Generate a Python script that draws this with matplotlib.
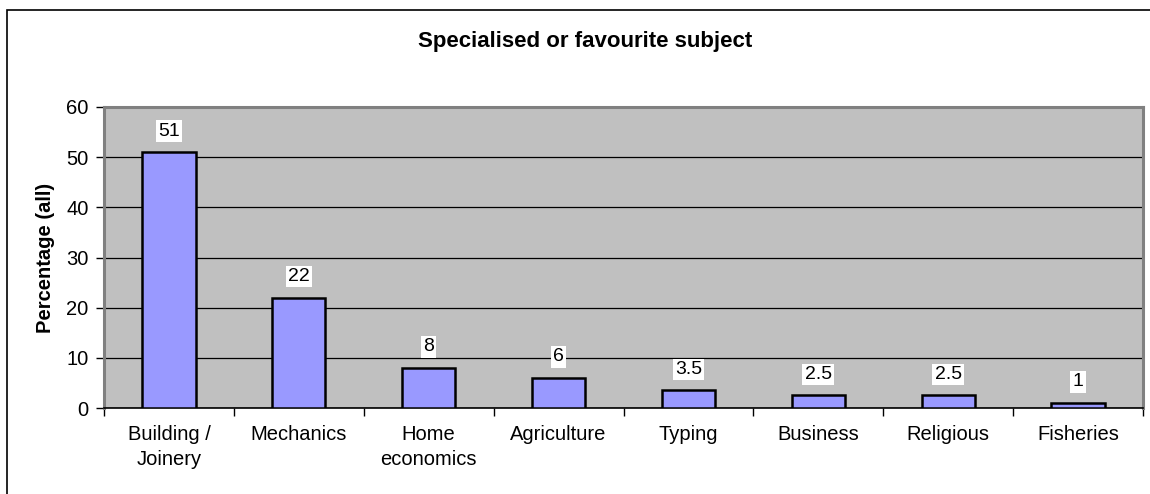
import matplotlib
matplotlib.use("Agg")
import matplotlib.pyplot as plt
from matplotlib.patches import Rectangle

plt.rcParams['font.family'] = ['Liberation Sans', 'DejaVu Sans']

subjects = ['Building /\nJoinery', 'Mechanics', 'Home\neconomics', 'Agriculture',
            'Typing', 'Business', 'Religious', 'Fisheries']
percent = [51, 22, 8, 6, 3.5, 2.5, 2.5, 1]
value_labels = ['51', '22', '8', '6', '3.5', '2.5', '2.5', '1']

fig = plt.figure(figsize=(11.5, 4.94), dpi=100)

# outer chart frame (runs off the right and bottom edges)
fig.patches.append(Rectangle((7 / 1150, -0.05), 1.1, 1 - 10 / 494 + 0.05,
                             transform=fig.transFigure, fill=False,
                             edgecolor='black', linewidth=1.2, clip_on=False))

ax = fig.add_axes([104 / 1150, 86 / 494, 1039 / 1150, 301 / 494])
ax.set_facecolor('#C0C0C0')

x = list(range(len(subjects)))
bars = ax.bar(x, percent, width=0.41, color='#9999FF', edgecolor='black',
              linewidth=1.8, zorder=3)

for xi, v, lab in zip(x, percent, value_labels):
    ax.annotate(lab, (xi, v), xytext=(0, 9), textcoords='offset points',
                ha='center', va='bottom', fontsize=14, zorder=4,
                bbox=dict(boxstyle='square,pad=0.12', facecolor='white',
                          edgecolor='none'))

ax.set_xlim(-0.5, len(subjects) - 0.5)
ax.set_ylim(0, 60)
ax.set_yticks(range(0, 61, 10))
ax.yaxis.grid(True, color='black', linewidth=0.9, zorder=1)
ax.set_axisbelow(True)

ax.set_xticks(x)
ax.set_xticklabels(subjects, fontsize=14.5, linespacing=1.45)
ax.set_xticks([i - 0.5 for i in range(len(subjects) + 1)], minor=True)
ax.tick_params(axis='x', which='major', length=0, pad=12)
ax.tick_params(axis='x', which='minor', length=6, width=1, color='black')
ax.tick_params(axis='y', length=6, width=1, pad=5, labelsize=14.5)

for side in ['top', 'right']:
    ax.spines[side].set_color('#808080')
    ax.spines[side].set_linewidth(2.2)
ax.spines['left'].set_color('#808080')
ax.spines['left'].set_linewidth(2.2)
ax.spines['bottom'].set_color('black')
ax.spines['bottom'].set_linewidth(1.2)

ax.set_ylabel('Percentage (all)', fontsize=14.5, fontweight='bold', labelpad=8)
fig.text(585 / 1150, 1 - 41 / 494, 'Specialised or favourite subject',
         ha='center', va='center', fontsize=16, fontweight='bold')

fig.savefig('out.png', dpi=100)
